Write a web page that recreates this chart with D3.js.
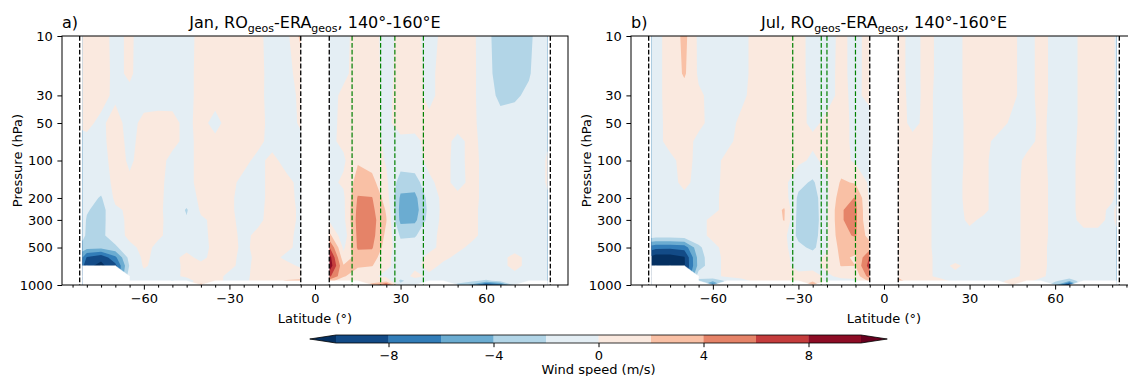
<!DOCTYPE html>
<html>
<head>
<meta charset="utf-8">
<script src="https://cdn.jsdelivr.net/npm/d3@7/dist/d3.min.js"></script>
<style>
  body { margin: 0; background: #fff; }
  svg text { font-family: "DejaVu Sans", sans-serif; fill: #000; }
</style>
</head>
<body>
<svg id="chart" width="1128" height="376"></svg>
<script>
const _ = null; // masked (no data)

// grid of the two fields
const lats = [-81.5, -80, -75, -70, -65, -60, -55, -50, -45, -40, -35, -30, -25, -20, -15, -10, -5, 0,
              5, 10, 15, 20, 25, 30, 35, 40, 45, 50, 55, 60, 65, 70, 75, 80, 81.5];
const levels = [10, 20, 30, 50, 70, 100, 150, 200, 250, 300, 400, 500, 600, 700, 850, 925, 1000];

// contour levels, colour bar ticks, axis ticks
const windLevels = [-10, -8, -6, -4, -2, 0, 2, 4, 6, 8, 10];
const cbarTicks = [-8, -4, 0, 4, 8];
const latTicks = [-60, -30, 0, 30, 60];
const pressureTicks = [10, 30, 50, 100, 200, 300, 500, 1000];

// vertical guide lines
const dataEdges = [-82.5, -5, 5, 82.5];
const janBoxes = [13, 23, 28, 38];
const julBoxes = [-32, -22, -20, -10];

// RO - ERA geostrophic wind, January (rows = levels, cols = lats)
const janRows = [
  [0.5, 0.5, 0.4, -0.3, 0.2, -0.5, -0.6, -0.5, -0.6, 0.5, 0.6, 0.7, 0.6, 0.3, -0.5, -0.6, 2.5, _,
   -0.5, -0.4, 0.5, 0.5, -0.5, 0.4, 0.4, -0.5, 0.3, 0.6, 0.5, -1.3, -3.2, -3.3, -2.5, -0.6, -0.5],
  [0.5, 0.6, 0.5, -0.3, 0.2, -0.6, -0.5, -0.6, -0.5, 0.5, 0.6, 0.7, 0.6, 0.4, -0.5, -0.5, 0.6, _,
   -0.5, -0.3, 0.5, 0.5, -0.4, 0.4, 0.4, -0.3, 0.4, 0.6, 0.5, -1.2, -3.0, -2.9, -2.2, -0.6, -0.5],
  [0.4, 0.5, 0.3, -0.2, -0.3, -0.5, -0.5, -0.4, -0.4, 0.4, 0.5, 0.6, 0.5, 0.3, -0.4, -0.6, 0.3, _,
   -0.5, 0.3, 0.5, 0.4, -0.3, 0.4, 0.4, -0.3, 0.4, 0.5, 0.4, -1.0, -2.5, -2.3, -1.6, -0.6, -0.5],
  [0.2, 0.2, -0.2, 0.4, -0.4, 0.3, 0.4, 0.3, -0.3, 0.4, -0.4, 0.5, 0.6, 0.5, -0.5, -0.6, 0.2, _,
   -0.5, 0.4, 0.6, 0.4, -0.3, 0.5, 0.4, 0.3, 0.4, 0.4, 0.3, -0.6, -1.2, -1.1, -0.8, -0.5, -0.4],
  [-0.3, -0.2, -0.3, 0.5, -0.3, 0.4, 0.5, 0.3, -0.3, 0.3, 0.3, 0.5, 0.5, 0.3, -0.4, -0.5, -0.3, _,
   -0.4, 0.4, 0.6, 0.4, -0.2, -0.3, -0.3, 0.4, 0.4, -0.3, 0.3, -0.4, -0.6, -0.6, -0.5, -0.4, -0.3],
  [-0.5, -0.5, -0.6, 0.6, -0.2, 0.5, 0.4, -0.3, -0.4, 0.4, 0.5, 0.4, 0.3, -0.3, 0.3, -0.4, -0.4, _,
   -0.5, -0.3, 1.8, 1.2, -0.2, -1.0, -0.6, 0.4, 0.4, -0.4, 0.4, -0.4, -0.5, -0.5, -0.4, -0.3, 0.3],
  [-0.6, -0.7, -1.0, 0.5, 0.2, 0.5, 0.3, -0.4, -0.5, 0.5, 0.5, 0.3, -0.3, -0.4, 0.4, 0.3, -0.3, _,
   -0.5, 0.3, 2.8, 2.6, 0.4, -3.0, -3.0, -0.3, 0.5, -0.5, 0.4, -0.4, -0.5, -0.4, -0.4, -0.3, 0.3],
  [-0.8, -1.2, -2.2, 0.4, 0.3, 0.5, 0.3, -0.5, -1.0, 0.4, 0.4, 0.2, -0.4, -0.4, 0.4, 0.4, -0.3, _,
   -0.5, -0.4, 4.2, 4.1, 1.0, -4.4, -4.6, -1.2, 0.5, 0.4, 0.4, -0.4, -0.4, -0.4, -0.3, -0.3, -0.3],
  [-1.0, -1.8, -2.8, -0.3, 0.3, 0.4, 0.3, -0.6, -2.2, 0.3, 0.4, 0.2, -0.4, -0.3, 0.4, 0.4, -0.2, _,
   -0.4, -0.5, 4.6, 4.5, 1.8, -4.8, -5.0, -1.4, 0.5, 0.4, 0.3, -0.4, -0.4, -0.4, -0.3, -0.3, -0.3],
  [-1.2, -2.2, -2.7, -0.5, 0.3, 0.5, 0.3, -0.5, -1.8, -0.3, 0.4, 0.3, -0.4, -0.3, 0.5, 0.4, -0.2, _,
   -0.3, -0.6, 4.8, 4.8, 2.1, -4.6, -4.5, -1.2, 0.5, 0.4, 0.3, -0.4, -0.4, -0.4, -0.3, -0.3, -0.3],
  [-1.5, -2.3, -2.5, -0.8, 0.4, 0.5, 0.2, -0.4, -0.5, -0.3, 0.3, 0.4, -0.3, 0.3, 0.5, 0.3, -0.3, _,
   2.6, -1.5, 4.6, 4.7, 1.5, -2.3, -2.2, -0.6, 0.5, 0.4, 0.3, -0.4, -0.4, -0.4, -0.3, -0.3, -0.3],
  [-2.6, -3.2, -3.4, -2.4, -0.4, 0.4, -0.3, -0.4, -0.3, -0.4, 0.3, 0.5, -0.3, 0.4, 0.5, 0.3, -0.4, _,
   6.2, -0.4, 4.3, 4.2, 1.0, -1.2, -1.0, -0.4, 0.4, 0.3, -0.3, -0.4, -0.4, -0.4, -0.3, -0.3, -0.3],
  [-6.0, -8.2, -9.5, -6.5, -1.2, 0.3, -0.4, -0.3, 0.3, -0.3, 0.4, 0.4, -0.4, 0.3, 0.4, -0.3, -0.4, _,
   9.2, 0.6, 3.0, 3.0, 0.4, -0.8, -0.6, 0.4, 0.3, -0.3, -0.3, -0.4, -0.3, 0.3, -0.3, -0.3, -0.3],
  [-7.5, -9.5, -10.5, -8.6, -1.8, 0.2, -0.5, -0.4, 0.3, 0.3, 0.5, 0.3, -0.4, 0.4, 0.5, 0.4, -0.2, _,
   9.6, 2.2, 2.4, 2.1, 0.3, -0.6, -0.4, 0.5, -0.3, -0.3, -0.3, -0.4, -0.3, 0.3, -0.3, -0.3, -0.3],
  [_, _, _, _, -0.6, -0.5, -0.4, -0.5, 0.4, 0.5, 0.4, -0.3, -0.3, 0.4, 0.5, 0.6, 0.8, _,
   6.5, 2.3, 0.4, 0.3, -0.4, -1.0, 0.5, -0.3, -0.4, -0.3, -0.4, -0.4, -0.3, -0.3, -0.3, -0.3, -0.3],
  [_, _, _, _, -0.8, -1.5, -1.2, -2.1, -1.0, 1.0, 0.5, -0.4, -0.3, 0.5, 0.8, 2.3, 2.6, _,
   3.0, 0.4, 0.3, 0.6, 1.2, -2.4, -0.8, -0.3, -0.5, -1.0, -1.5, -2.5, -1.2, -0.6, -0.3, -0.3, -0.3],
  [_, _, _, _, _, _, _, _, _, 2.5, _, _, _, _, _, _, _, _,
   _, _, _, 3.0, 6.5, -1.5, -0.5, _, _, -2.5, -4.5, -9.2, -7.0, -1.5, _, _, _]
];

// July
const julRows = [
  [-0.5, -0.4, 0.5, 2.6, -0.4, -0.5, -0.5, -0.4, 0.4, 0.5, 0.6, 0.4, -0.4, -0.5, 0.3, -0.4, 0.5, _,
   0.5, -0.5, 0.4, -0.4, -0.4, 0.4, 0.5, 0.5, 0.2, -0.4, 0.3, -0.3, -0.4, 0.3, 0.5, 0.4, -0.3],
  [-0.5, -0.4, 0.5, 2.3, -0.3, -0.5, -0.5, -0.4, 0.4, 0.5, 0.6, 0.4, -0.4, -0.4, 0.3, -0.4, 0.5, _,
   0.5, -0.5, 0.4, -0.4, -0.4, 0.4, 0.5, 0.5, 0.2, -0.4, 0.3, -0.3, -0.4, 0.3, 0.5, 0.4, -0.3],
  [-0.5, -0.4, 0.5, 0.9, 0.3, -0.5, -0.5, -0.3, 0.5, 0.5, 0.6, 0.4, -0.3, -0.4, 0.3, -0.3, 0.4, _,
   0.5, -0.4, 0.3, -0.4, -0.4, 0.4, 0.5, 0.5, 0.2, -0.4, 0.3, -0.3, -0.4, 0.3, 0.5, 0.4, -0.3],
  [-0.5, -0.4, 0.4, 0.6, 0.3, -0.4, -0.5, 0.3, 0.5, 0.5, 0.5, 0.4, -0.3, 0.3, 0.4, -0.3, -0.6, _,
   0.5, -0.3, 0.3, -0.4, -0.4, 0.3, 0.5, 0.4, -0.2, -0.4, 0.2, -0.3, -0.4, 0.3, 0.5, 0.4, -0.3],
  [-0.4, -0.4, 0.4, 0.5, -0.3, -0.4, -0.3, 0.4, 0.5, 0.6, 0.5, 0.5, 0.3, 0.3, 0.4, -0.3, -1.0, _,
   0.4, 0.3, 0.3, -0.4, -0.4, 0.3, 0.3, -0.3, -0.4, -0.3, 0.2, -0.3, -0.4, 0.4, 0.5, 0.3, -0.3],
  [-0.4, -0.4, -0.3, 0.4, -0.3, -0.4, 0.3, 0.5, 0.5, 0.6, 0.5, 0.4, -0.3, 0.4, 0.6, -0.3, -0.4, _,
   0.5, 0.4, 0.2, -0.4, -0.4, 0.3, 0.2, -0.4, -0.4, 0.2, 0.3, -0.4, -0.3, 0.4, 0.5, 0.3, -0.3],
  [-0.4, -0.5, -0.4, 0.3, -0.4, -0.4, 0.4, 0.5, 0.6, 0.6, 0.5, -1.4, -2.3, -0.3, 2.3, 1.8, -0.4, _,
   0.5, 0.5, 0.2, -0.4, -0.4, 0.4, 0.2, -0.4, -0.4, 0.3, 0.4, -0.4, -0.3, 0.4, 0.5, 0.3, -0.3],
  [-0.4, -0.5, -0.4, -0.3, -0.4, -0.3, 0.4, 0.5, 0.6, 0.7, 1.0, -2.4, -3.0, -0.4, 3.3, 4.1, -0.4, _,
   0.5, 0.5, 0.2, -0.4, -0.4, 0.4, 0.2, -0.4, -0.4, 0.3, 0.4, -0.4, -0.3, 0.4, 0.5, 0.2, -0.3],
  [-0.4, -0.5, -0.5, -0.4, -0.4, -0.3, 0.4, 0.5, 0.6, 1.0, 2.2, -2.7, -3.2, -0.3, 3.9, 4.5, -0.3, _,
   0.5, 0.5, 0.2, -0.4, -0.4, 0.3, 0.2, -0.4, -0.4, 0.3, 0.4, -0.4, -0.3, 0.4, 0.4, -0.3, 0.3],
  [-0.5, -0.5, -0.5, -0.4, -0.4, 0.3, 0.4, 0.5, 0.6, 0.9, 2.1, -2.8, -3.3, -0.3, 3.9, 4.5, -0.2, _,
   0.5, 0.5, 0.2, -0.4, -0.4, 0.2, -0.2, -0.4, -0.4, 0.3, 0.4, -0.4, -0.3, 0.3, 0.3, -0.3, 0.3],
  [-0.7, -0.8, -0.8, -0.6, -0.4, 0.3, 0.4, 0.5, 0.6, 0.7, 0.6, -2.6, -3.0, -0.3, 3.5, 4.2, 1.0, _,
   0.5, 0.5, 0.2, -0.4, -0.4, -0.3, -0.4, -0.4, -0.4, 0.3, 0.4, -0.4, -0.4, -0.3, -0.3, -0.4, -0.3],
  [-7.0, -7.5, -7.6, -7.2, -2.5, -0.3, 0.4, 0.5, 0.6, 0.6, 0.5, -1.4, -2.5, -0.3, 2.8, 2.6, 3.2, _,
   0.5, 0.5, 0.2, -0.4, -0.4, -0.3, -0.4, -0.4, -0.4, 0.3, 0.3, -0.4, -0.4, -0.4, -0.4, -0.4, -0.3],
  [-10.5, -11, -11, -10.2, -3.2, -0.4, 0.3, 0.5, 0.5, 0.5, 0.4, -0.6, -0.8, 0.4, 2.3, 1.8, 6.2, _,
   0.5, 0.5, 0.2, -0.3, -0.4, -0.3, -0.4, -0.4, -0.4, 0.3, 0.3, -0.4, -0.4, -0.4, -0.4, -0.4, -0.3],
  [-10.5, -11, -11, -10.3, -3.3, -0.4, 0.3, 0.4, 0.5, 0.5, 0.4, -0.5, -0.5, 0.5, 2.1, 2.0, 7.0, _,
   0.6, 0.5, 0.2, -0.3, 0.2, -0.3, -0.4, -0.4, -0.4, 0.3, 0.3, -0.4, -0.4, -0.4, -0.4, -0.4, -0.3],
  [_, _, _, _, -0.6, -0.4, 0.3, 0.4, 0.4, 0.4, 0.5, 0.4, 0.6, -0.3, 0.4, 0.7, 5.0, _,
   1.5, 0.4, 0.2, -0.3, -0.3, -0.3, -0.4, -0.4, -0.3, 0.3, 0.2, -0.4, -0.4, -0.4, -0.4, -0.4, -0.3],
  [_, _, _, _, -2.8, -3.5, -1.5, -0.4, 0.3, 0.3, 0.4, 0.6, 1.5, -0.6, -0.5, -0.4, 2.5, _,
   2.8, 0.5, 0.3, 0.3, -0.3, -0.3, -0.3, -0.3, 0.3, 0.3, -0.3, -1.5, -3.5, -0.4, -0.3, -0.3, -0.3],
  [_, _, _, _, _, -7.5, _, _, _, _, _, _, 4.5, _, _, _, _, _,
   _, _, _, _, _, _, _, _, 2.5, _, _, -3.5, -10.5, _, _, _, _]
];

// ---- layout ----
const plotTop = 36, plotBottom = 285, plotW = 506;
const latDomain = [-88.7, 88.7];
const panels = [
  { left: 62, tag: 'a)', month: 'Jan', rows: janRows, boxes: janBoxes },
  { left: 631, tag: 'b)', month: 'Jul', rows: julRows, boxes: julBoxes }
];

const cmap = d3.piecewise(d3.interpolateRgb, d3.schemeRdBu[11].slice().reverse());
const nBins = windLevels.length - 1;
// under, one colour per band, over
const layerColors = [cmap(0)]
  .concat(d3.range(nBins).map(k => cmap((k + 0.5) / nBins)))
  .concat([cmap(1)]);

const svg = d3.select('#chart');

function fillGaps(rows) {
  const out = rows.map(r => r.slice());
  out.forEach((r, j) => r.forEach((v, i) => {
    if (v === null) r[i] = j > 0 ? out[j - 1][i] : r[i - 1];
  }));
  return out;
}

function drawPanel(p, idx) {
  const x = d3.scaleLinear().domain(latDomain).range([p.left, p.left + plotW]);
  const y = d3.scaleLog().domain([10, 1000]).range([plotTop, plotBottom]);
  const nx = lats.length, ny = levels.length;
  const xs = lats.map(x), ys = levels.map(y);

  const clipId = 'clip' + idx;
  svg.append('clipPath').attr('id', clipId)
    .append('rect').attr('x', p.left).attr('y', plotTop)
    .attr('width', plotW).attr('height', plotBottom - plotTop);

  const plot = svg.append('g').attr('clip-path', `url(#${clipId})`);

  // filled contours
  const filled = fillGaps(p.rows);
  const values = [];
  filled.forEach(r => r.forEach(v => values.push(v)));
  const contours = d3.contours().size([nx, ny])
    .thresholds([-1e9].concat(windLevels))(values);

  const along = (arr, f) => {
    f = Math.max(0, Math.min(arr.length - 1, f));
    const i = Math.min(arr.length - 2, Math.floor(f));
    return arr[i] + (arr[i + 1] - arr[i]) * (f - i);
  };
  const path = d3.geoPath(d3.geoTransform({
    point(px, py) { this.stream.point(along(xs, px - 0.5), along(ys, py - 0.5)); }
  }));

  plot.selectAll('path.band').data(contours).join('path')
    .attr('class', 'band')
    .attr('d', path)
    .attr('fill', (d, k) => layerColors[k]);

  // masked cells (corner masking like contourf), merged into one path
  let maskD = '';
  for (let j = 0; j < ny - 1; j++) {
    for (let i = 0; i < nx - 1; i++) {
      const c = [[i, j], [i + 1, j], [i + 1, j + 1], [i, j + 1]];
      const bad = c.map(([a, b]) => p.rows[b][a] === null);
      const n = bad.filter(Boolean).length;
      let poly = null;
      if (n >= 2) poly = c;
      else if (n === 1) {
        const k = bad.indexOf(true);
        poly = [c[(k + 3) % 4], c[k], c[(k + 1) % 4]];
      }
      if (poly) maskD += 'M' + poly.map(([a, b]) => xs[a] + ',' + ys[b]).join('L') + 'Z';
    }
  }
  plot.append('path').attr('d', maskD).attr('fill', '#fff')
    .attr('stroke', '#fff').attr('stroke-width', 0.4);

  // guide lines
  plot.selectAll('line.edge').data(dataEdges).join('line')
    .attr('x1', d => x(d)).attr('x2', d => x(d))
    .attr('y1', plotTop).attr('y2', plotBottom)
    .attr('stroke', '#000').attr('stroke-width', 1.3).attr('stroke-dasharray', '4.8,2.1');
  plot.selectAll('line.box').data(p.boxes).join('line')
    .attr('x1', d => x(d)).attr('x2', d => x(d))
    .attr('y1', plotTop).attr('y2', plotBottom)
    .attr('stroke', '#008000').attr('stroke-width', 1.2).attr('stroke-dasharray', '4.8,2.1');

  // axes
  const xAxis = svg.append('g').attr('transform', `translate(0,${plotBottom})`)
    .call(d3.axisBottom(x).tickValues(latTicks).tickFormat(d3.format('d'))
      .tickSize(4.6).tickPadding(4.6));
  const minor = d3.range(-85, 86, 5).filter(v => !latTicks.includes(v));
  svg.append('g').attr('transform', `translate(0,${plotBottom})`)
    .call(d3.axisBottom(x).tickValues(minor).tickFormat('').tickSize(2.6));
  const yAxis = svg.append('g').attr('transform', `translate(${p.left},0)`)
    .call(d3.axisLeft(y).tickValues(pressureTicks).tickFormat(d => String(d))
      .tickSize(4.6).tickPadding(4.6));
  svg.selectAll('.domain').remove();
  svg.selectAll('.tick line').attr('stroke-width', 1);
  [xAxis, yAxis].forEach(a => a.attr('font-size', 13).attr('font-family', 'DejaVu Sans'));

  svg.append('rect').attr('x', p.left).attr('y', plotTop)
    .attr('width', plotW).attr('height', plotBottom - plotTop)
    .attr('fill', 'none').attr('stroke', '#000').attr('stroke-width', 1);

  // titles and labels
  const cx = p.left + plotW / 2;
  svg.append('text').attr('x', p.left).attr('y', 27.5).attr('font-size', 16).text(p.tag);
  const t = svg.append('text').attr('x', cx).attr('y', 27.5)
    .attr('text-anchor', 'middle').attr('font-size', 16);
  t.append('tspan').text(`${p.month}, RO`);
  t.append('tspan').attr('font-size', 11).attr('dy', 4).text('geos');
  t.append('tspan').attr('dy', -4).text('-ERA');
  t.append('tspan').attr('font-size', 11).attr('dy', 4).text('geos');
  t.append('tspan').attr('dy', -4).text(', 140°-160°E');

  svg.append('text').attr('x', cx).attr('y', 322.5)
    .attr('text-anchor', 'middle').attr('font-size', 13).text('Latitude (°)');
  svg.append('text')
    .attr('transform', `translate(${p.left - 40},${(plotTop + plotBottom) / 2}) rotate(-90)`)
    .attr('text-anchor', 'middle').attr('font-size', 13).text('Pressure (hPa)');
}

panels.forEach(drawPanel);

// ---- colour bar ----
const cb = d3.scaleLinear()
  .domain([windLevels[0], windLevels[nBins]]).range([336, 861]);
const cbTop = 335, cbH = 8, ext = 26.25;
const bar = svg.append('g');
bar.selectAll('rect').data(d3.range(nBins)).join('rect')
  .attr('x', k => cb(windLevels[k]))
  .attr('width', k => cb(windLevels[k + 1]) - cb(windLevels[k]) + 0.3)
  .attr('y', cbTop).attr('height', cbH)
  .attr('fill', k => layerColors[k + 1]);
const x0 = cb(windLevels[0]), x1 = cb(windLevels[nBins]), mid = cbTop + cbH / 2;
bar.append('path')
  .attr('d', `M${x0},${cbTop}L${x0 - ext},${mid}L${x0},${cbTop + cbH}Z`)
  .attr('fill', layerColors[0]);
bar.append('path')
  .attr('d', `M${x1},${cbTop}L${x1 + ext},${mid}L${x1},${cbTop + cbH}Z`)
  .attr('fill', layerColors[nBins + 1]);
bar.append('path')
  .attr('d', `M${x0},${cbTop}L${x1},${cbTop}L${x1 + ext},${mid}L${x1},${cbTop + cbH}` +
             `L${x0},${cbTop + cbH}L${x0 - ext},${mid}Z`)
  .attr('fill', 'none').attr('stroke', '#000').attr('stroke-width', 0.8);
const cbAxis = svg.append('g').attr('transform', `translate(0,${cbTop + cbH})`)
  .call(d3.axisBottom(cb).tickValues(cbarTicks).tickFormat(d3.format('d'))
    .tickSize(4.2).tickPadding(3.4));
cbAxis.select('.domain').remove();
cbAxis.attr('font-size', 13).attr('font-family', 'DejaVu Sans');
cbAxis.selectAll('.tick line').attr('stroke-width', 1);
svg.append('text').attr('x', (x0 + x1) / 2).attr('y', 374)
  .attr('text-anchor', 'middle').attr('font-size', 13).text('Wind speed (m/s)');
</script>
</body>
</html>
